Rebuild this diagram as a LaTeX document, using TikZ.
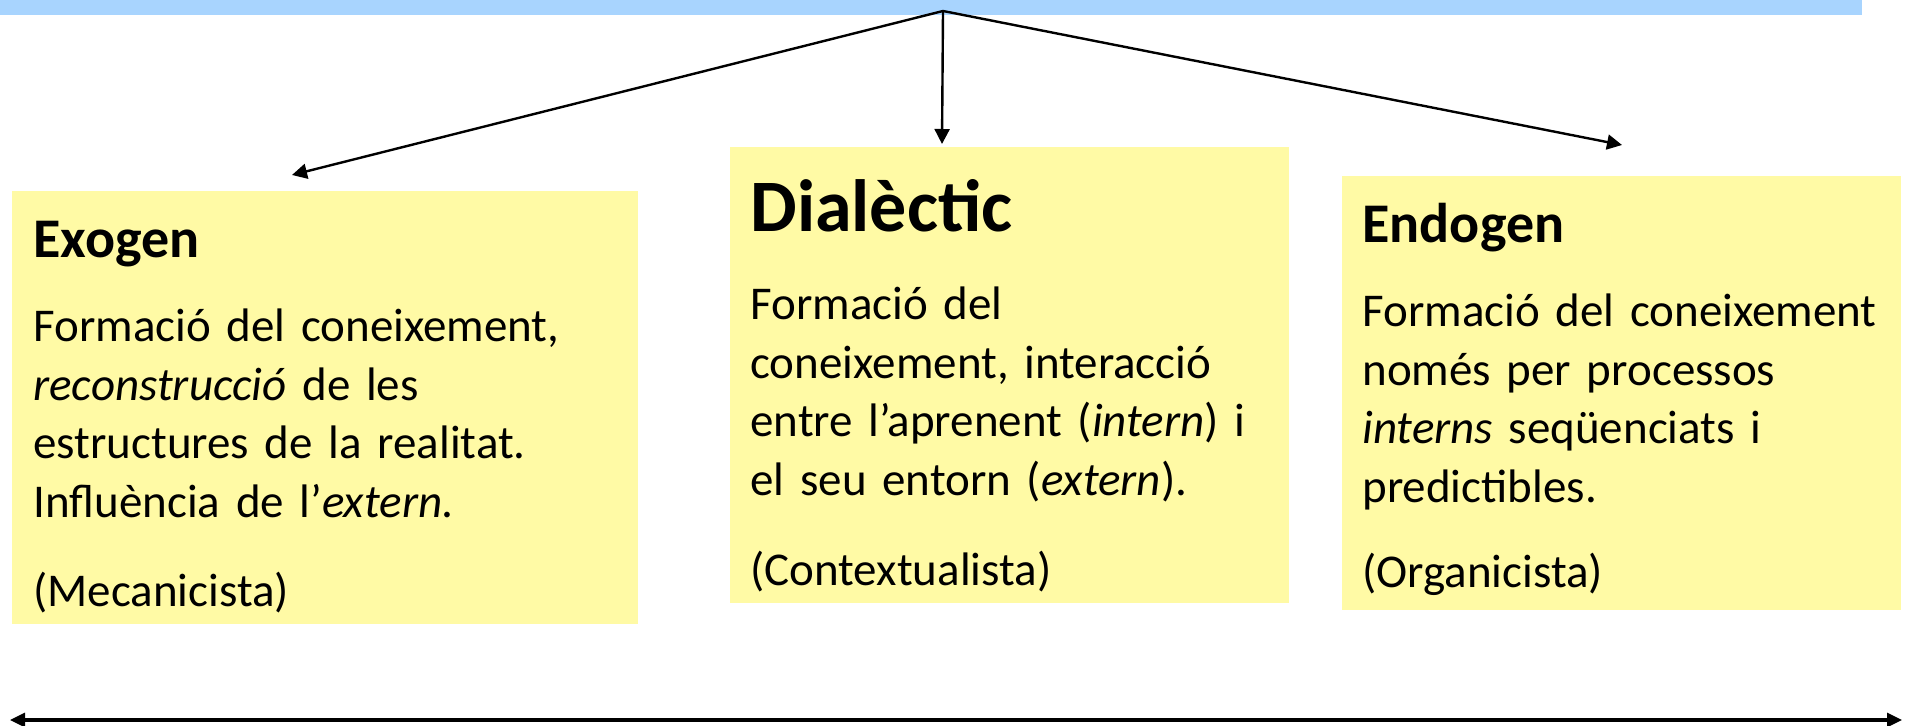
\documentclass[tikz,border=0pt]{standalone}
\usepackage{fontspec}
\setmainfont{Carlito}
\usetikzlibrary{arrows.meta,positioning}
\definecolor{barrablava}{RGB}{168,212,254}
\definecolor{grocpal}{RGB}{255,250,165}

\begin{document}
\begin{tikzpicture}[x=0.5pt,y=-0.5pt,
  caixa/.style={fill=grocpal,anchor=north west,inner sep=0pt,minimum height=#1},
  titol/.style={anchor=base west,inner sep=0pt,font=\bfseries\fontsize{28pt}{33pt}\selectfont},
  cos/.style={anchor=base west,inner sep=0pt,align=left,text width=#1,font=\fontsize{23.5pt}{29.25pt}\selectfont},
  fletxa/.style={-{Triangle[length=7.5pt,width=7.5pt]},line width=1.2pt},
  eix/.style={{Triangle[length=7.5pt,width=7pt]}-{Triangle[length=7.5pt,width=7pt]},line width=1.6pt}]
\useasboundingbox (0,0) rectangle (1905,726);
% barra de dalt
\node[fill=barrablava,anchor=north west,inner sep=0pt,minimum width=931pt,minimum height=7.3pt] (origen) at (0,0) {};
\coordinate (apex) at (943,11);
% caixes
\node[caixa=216.5pt,minimum width=313pt] (exogen) at (12,191) {};
\node[caixa=228pt,minimum width=279.5pt] (dialectic) at (730,147) {};
\node[caixa=217pt,minimum width=279.5pt] (endogen) at (1342,176) {};
% titols
\node[titol] (exotitol) at (33,258) {Exogen};
\node[titol,font=\bfseries\fontsize{37pt}{40pt}\selectfont] (diatitol) at (750,232) {Dialèctic};
\node[titol] (endotitol) at (1362,243) {Endogen};
% textos
\node[cos=300pt] (exotext) at (33,342) {Formació del coneixement,\\
  \textit{reconstrucció} de les\\
  estructures de la realitat.\\
  Influència de l’\textit{extern.}\\[15.5pt]
  (Mecanicista)};
\node[cos=268pt] (diatext) at (750,320) {Formació del\\
  coneixement, interacció\\
  entre l’aprenent (\textit{intern}) i\\
  el seu entorn (\textit{extern}).\\[16pt]
  (Contextualista)};
\node[cos=268pt] (endotext) at (1362,327) {Formació del coneixement\\
  només per processos\\
  \textit{interns} seqüenciats i\\
  predictibles.\\[13.5pt]
  (Organicista)};
% fletxes
\coordinate (puntaexo) at (292,175);
\coordinate (puntadia) at (942,144);
\coordinate (puntaendo) at (1622,145);
\draw[fletxa] (apex) -- (puntaexo);
\draw[fletxa] (apex) -- (puntadia);
\draw[fletxa] (apex) -- (puntaendo);
% eix de baix
\coordinate (esquerra) at (10,720);
\coordinate (dreta) at (1902,720);
\draw[eix] (esquerra) -- (dreta);
\end{tikzpicture}
\end{document}
